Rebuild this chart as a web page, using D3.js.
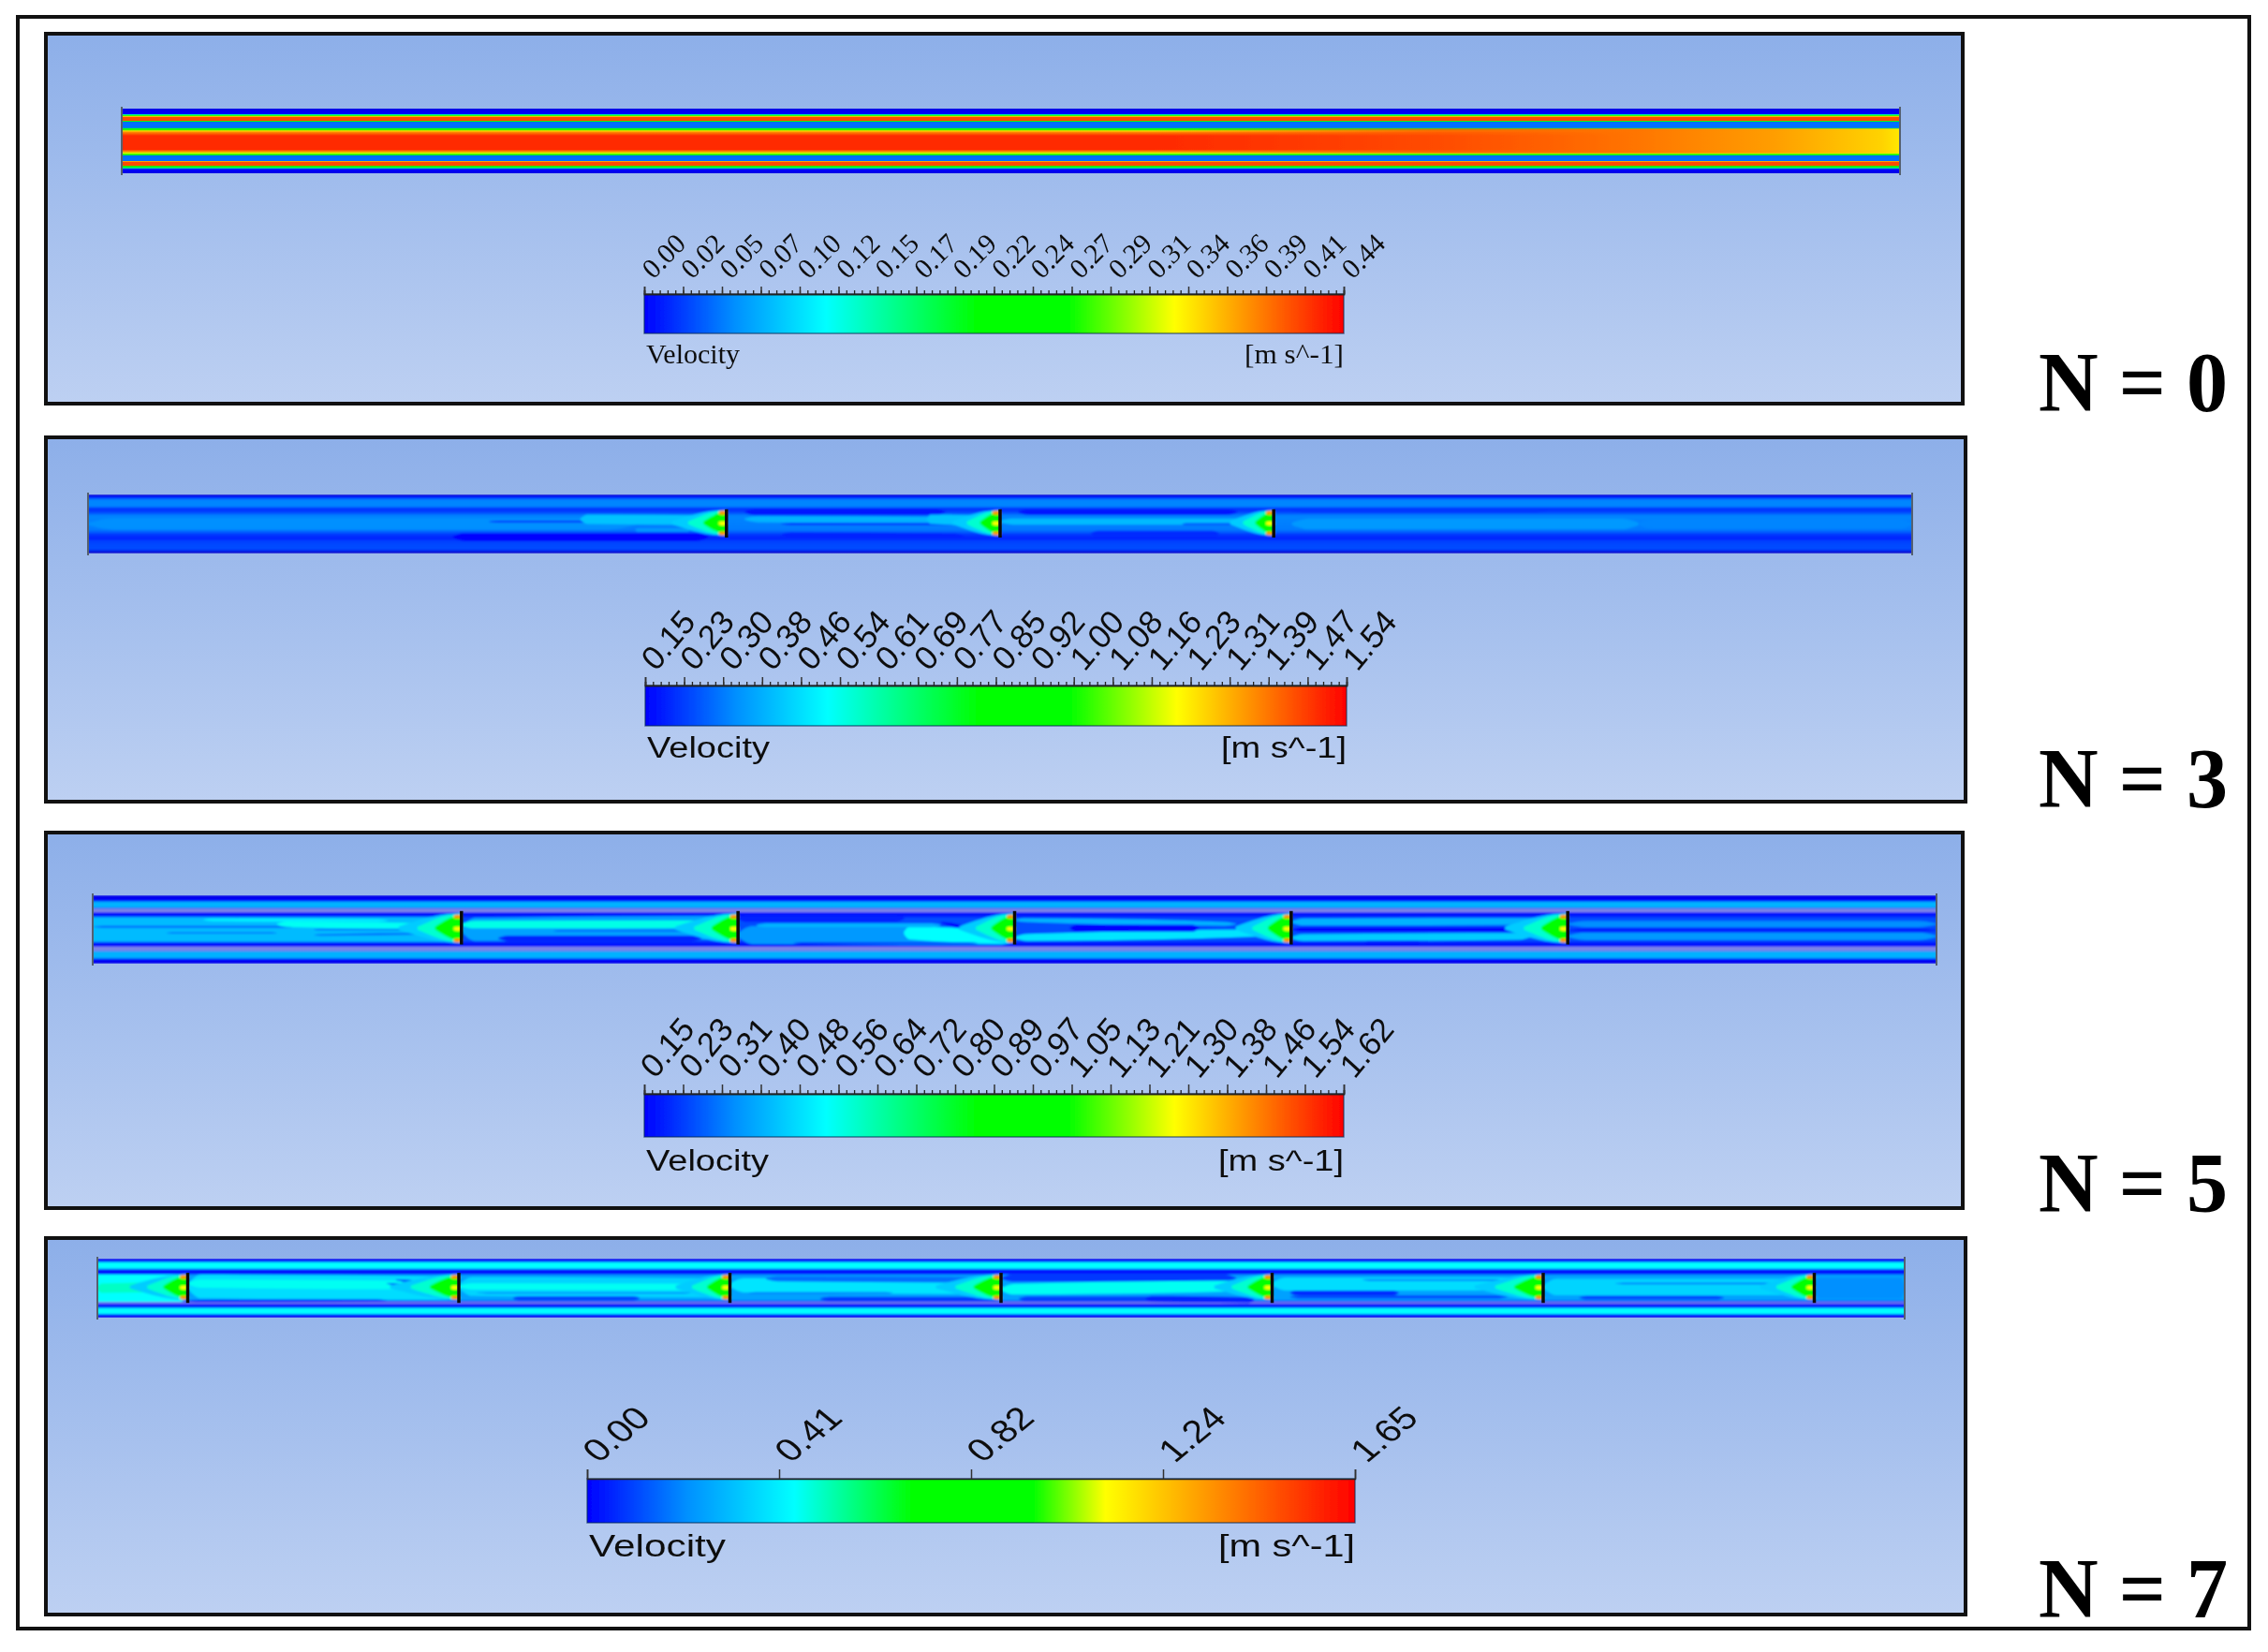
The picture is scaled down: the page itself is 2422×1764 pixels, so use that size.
<!DOCTYPE html>
<html>
<head>
<meta charset="utf-8">
<style>
  html, body { margin: 0; padding: 0; background: #fff; }
  svg { display: block; }
</style>
<script src="https://cdn.jsdelivr.net/npm/d3@7"></script>
</head>
<body>
<script>
// colour bar tick labels
var ticksN0 = ['0.00','0.02','0.05','0.07','0.10','0.12','0.15','0.17','0.19','0.22','0.24','0.27','0.29','0.31','0.34','0.36','0.39','0.41','0.44'];
var ticksN3 = ['0.15','0.23','0.30','0.38','0.46','0.54','0.61','0.69','0.77','0.85','0.92','1.00','1.08','1.16','1.23','1.31','1.39','1.47','1.54'];
var ticksN5 = ['0.15','0.23','0.31','0.40','0.48','0.56','0.64','0.72','0.80','0.89','0.97','1.05','1.13','1.21','1.30','1.38','1.46','1.54','1.62'];
var ticksN7 = ['0.00','0.41','0.82','1.24','1.65'];

// baffle stations along the tube (fraction of its length)
var bafflesN3 = [0.35, 0.5, 0.65];
var bafflesN5 = [0.2, 0.35, 0.5, 0.65, 0.8];
var bafflesN7 = [0.05, 0.2, 0.35, 0.5, 0.65, 0.8, 0.95];

// plume length upstream of each baffle
var plumesN3 = [0.03, 0.026, 0.024];
var plumesN5 = [0.034, 0.034, 0.03, 0.03, 0.034];
var plumesN7 = [0.032, 0.038, 0.03, 0.036, 0.032, 0.038, 0.03];

// velocity across the tube: [height fraction, normalised velocity]
var profileN0 = [[0,-0.03],[0.08,0],[0.09,0.3],[0.105,0.55],[0.12,0.8],[0.135,0.93],[0.185,0.93],[0.195,0.5],[0.205,0.1],[0.295,0.1],[0.305,0.45],[0.325,0.62],[0.345,0.8],[0.37,0.88],[0.42,0.96],[0.63,0.96],[0.665,0.86],[0.69,0.72],[0.715,0.5],[0.73,0.1],[0.805,0.1],[0.815,0.8],[0.825,0.93],[0.875,0.93],[0.895,0.6],[0.915,0.4],[0.93,0.1],[0.94,0],[1,-0.03]];
var profileN3 = [[0,-0.1],[0.03,0],[0.07,0.07],[0.09,0.12],[0.2,0.12],[0.24,0.04],[0.3,0.06],[0.36,0.12],[0.6,0.11],[0.68,0.05],[0.74,0.03],[0.8,0.06],[0.93,0.07],[0.97,-0.03],[1,-0.1]];
var profileN5 = [[0,-0.03],[0.03,-0.02],[0.08,0],[0.1,0.17],[0.17,0.17],[0.2,0.05],[0.26,0],[0.3,0.02],[0.34,0.07],[0.66,0.07],[0.7,0.02],[0.74,0],[0.8,0.05],[0.83,0.17],[0.91,0.17],[0.94,0],[1,-0.03]];
var profileN7 = [[0,-0.02],[0.05,0.02],[0.07,0.26],[0.16,0.26],[0.19,0.02],[0.25,0],[0.28,0.15],[0.7,0.15],[0.74,0.01],[0.82,0.02],[0.85,0.26],[0.93,0.26],[0.95,0],[1,-0.02]];

// N = 0 core towards the outlet: [length fraction, velocity, opacity]
var coreN0 = [[0.58,0.93,0],[0.74,0.92,0.8],[0.85,0.89,1],[0.93,0.85,1],[0.99,0.8,1],[1,0.78,1]];

// pale wall stripes: [top, bottom] height fractions
var wallsN5 = [[0.195,0.25],[0.75,0.815]];
var wallsN7 = [[0.735,0.765]];

// streaks in the flow: [x start, x end, y start, y end, half height, velocity]
var streaksN3 = [
  [0,0.3,0.5,0.5,0.1,0.13],[0.2,0.34,0.72,0.72,0.07,0.0],[0.22,0.33,0.46,0.46,0.015,0.03],
  [0.27,0.35,0.42,0.44,0.08,0.19],[0.3,0.33,0.6,0.6,0.03,0.14],
  [0.36,0.47,0.3,0.3,0.055,0.02],[0.36,0.5,0.42,0.44,0.05,0.17],[0.38,0.49,0.5,0.5,0.015,0.03],
  [0.38,0.48,0.68,0.7,0.04,0.03],[0.46,0.5,0.42,0.45,0.08,0.19],
  [0.51,0.63,0.3,0.3,0.05,0.02],[0.5,0.64,0.46,0.46,0.05,0.18],[0.55,0.62,0.66,0.66,0.045,0.04],[0.6,0.64,0.5,0.5,0.012,0.03],
  [0.66,0.85,0.5,0.5,0.09,0.14],[0.66,0.8,0.28,0.28,0.03,0.05],[0.85,1,0.5,0.5,0.08,0.12]
];
var streaksN5 = [
  [-0.02,0.2,0.5,0.5,0.18,0.18],[0.0,0.11,0.46,0.46,0.012,0.07],[0.04,0.1,0.55,0.55,0.01,0.1],[0.06,0.16,0.36,0.37,0.02,0.24],
  [0.1,0.2,0.42,0.46,0.04,0.27],[0.12,0.19,0.58,0.56,0.012,0.1],[0.12,0.18,0.5,0.5,0.01,0.09],
  [0.2,0.35,0.5,0.47,0.17,0.15],[0.2,0.35,0.43,0.42,0.055,0.28],[0.22,0.33,0.63,0.63,0.04,0.03],[0.25,0.33,0.52,0.52,0.012,0.09],
  [0.35,0.44,0.34,0.34,0.05,0.03],[0.35,0.5,0.58,0.6,0.13,0.14],[0.44,0.5,0.55,0.62,0.09,0.26],[0.36,0.46,0.44,0.44,0.03,0.17],[0.38,0.48,0.7,0.7,0.012,0.02],
  [0.46,0.475,0.4,0.48,0.012,0.0],[0.5,0.62,0.36,0.42,0.028,0.17],[0.5,0.64,0.62,0.55,0.05,0.23],[0.53,0.6,0.48,0.48,0.05,0.0],
  [0.65,0.79,0.39,0.38,0.05,0.17],[0.65,0.78,0.62,0.6,0.05,0.2],[0.65,0.78,0.5,0.5,0.035,0.0],[0.69,0.72,0.68,0.68,0.012,0.02],
  [0.8,1,0.42,0.42,0.045,0.13],[0.8,1,0.6,0.6,0.055,0.14],[0.8,1,0.51,0.51,0.03,0.03]
];
var streaksN7 = [
  [-0.02,0.05,0.5,0.5,0.23,0.26],[0.0,0.05,0.5,0.48,0.08,0.31],
  [0.05,0.2,0.47,0.5,0.2,0.22],[0.05,0.19,0.42,0.45,0.07,0.27],[0.05,0.16,0.72,0.71,0.02,0.04],[0.16,0.195,0.42,0.5,0.012,0.06],[0.165,0.19,0.36,0.44,0.01,0.05],
  [0.2,0.35,0.47,0.5,0.16,0.21],[0.2,0.35,0.47,0.48,0.055,0.27],[0.23,0.3,0.67,0.67,0.035,0.06],[0.21,0.33,0.58,0.58,0.01,0.1],
  [0.35,0.5,0.45,0.48,0.12,0.23],[0.37,0.5,0.34,0.36,0.045,0.1],[0.4,0.5,0.68,0.68,0.035,0.05],[0.36,0.44,0.58,0.58,0.012,0.1],
  [0.5,0.63,0.33,0.33,0.06,0.05],[0.5,0.64,0.52,0.46,0.09,0.27],[0.51,0.6,0.68,0.68,0.04,0.06],[0.58,0.64,0.68,0.7,0.05,0.03],
  [0.65,0.8,0.43,0.43,0.11,0.22],[0.66,0.72,0.58,0.58,0.04,0.04],[0.66,0.78,0.65,0.65,0.03,0.07],[0.7,0.78,0.36,0.36,0.012,0.09],
  [0.8,0.95,0.48,0.48,0.14,0.21],[0.82,0.9,0.66,0.66,0.03,0.06],[0.84,0.93,0.42,0.42,0.012,0.09],[0.95,1,0.5,0.5,0.18,0.13]
];

// jet heights just behind a baffle, and the plume layers (length share, half height, velocity)
var jetHeights = [0.31, 0.49, 0.66];
var plumeLayers = [[1,0.2,0.2],[0.7,0.19,0.3],[0.42,0.17,0.5]];

// colour ramp of the solver: velocity to colour
var rampStops = [-0.1,0,0.13,0.26,0.477,0.605,0.758,1];
var rampColors = ['#0000a8','#0000ff','#0090ff','#00ffff','#00ff00','#00ff00','#ffff00','#ff0000'];
// last bar sits a little differently
var barStopsN7 = [0,0.13,0.27,0.425,0.58,0.675,1];
var barColorsN7 = ['#0000ff','#0090ff','#00ffff','#00ff00','#00ff00','#ffff00','#ff0000'];

var width = 2422, height = 1764;
var ramp = d3.scaleLinear().domain(rampStops).range(rampColors).clamp(true);

var svg = d3.select('body').append('svg').attr('width', width).attr('height', height);
var defs = svg.append('defs');

var grad = defs.append('linearGradient').attr('id', 'panelBg').attr('x1', 0).attr('x2', 0).attr('y1', 0).attr('y2', 1);
grad.append('stop').attr('offset', 0).attr('stop-color', '#8dafe9');
grad.append('stop').attr('offset', 1).attr('stop-color', '#bdd0f2');

var barGrad = defs.append('linearGradient').attr('id', 'barRamp');
rampStops.slice(1).forEach(function(v, i) {
  barGrad.append('stop').attr('offset', v).attr('stop-color', rampColors[i + 1]);
});
var barGrad7 = defs.append('linearGradient').attr('id', 'barRampN7');
barStopsN7.forEach(function(v, i) {
  barGrad7.append('stop').attr('offset', v).attr('stop-color', barColorsN7[i]);
});

function addBlur(id, dev) {
  defs.append('filter').attr('id', id).attr('x', '-5%').attr('y', '-30%').attr('width', '110%').attr('height', '160%')
    .append('feGaussianBlur').attr('stdDeviation', dev);
}
addBlur('soft', 0.9);
addBlur('crisp', 0.45);
addBlur('fine', 0.6);

function profileGradient(id, profile) {
  var g = defs.append('linearGradient').attr('id', id).attr('x1', 0).attr('x2', 0).attr('y1', 0).attr('y2', 1);
  profile.forEach(function(d) {
    g.append('stop').attr('offset', d[0]).attr('stop-color', ramp(d[1]));
  });
}

function drawPanel(x0, x1, y0, y1) {
  svg.append('rect').attr('x', x0).attr('y', y0).attr('width', x1 - x0).attr('height', y1 - y0)
    .attr('fill', 'url(#panelBg)').attr('stroke', '#111').attr('stroke-width', 4);
}

function drawTube(cfg) {
  var x = d3.scaleLinear().domain([0, 1]).range([cfg.x0, cfg.x1]);
  var y = d3.scaleLinear().domain([0, 1]).range([cfg.y0, cfg.y1]);
  profileGradient(cfg.id, cfg.profile);

  var clipId = cfg.id + 'Clip';
  defs.append('clipPath').attr('id', clipId).append('rect')
    .attr('x', x(0)).attr('y', y(0)).attr('width', x(1) - x(0)).attr('height', y(1) - y(0));

  var outer = svg.append('g').attr('clip-path', 'url(#' + clipId + ')');
  var g = outer.append('g').attr('filter', cfg.core ? 'url(#crisp)' : 'url(#soft)');
  g.append('rect').attr('x', x(0) - 6).attr('y', y(0)).attr('width', x(1) - x(0) + 12).attr('height', y(1) - y(0))
    .attr('fill', 'url(#' + cfg.id + ')');

  (cfg.walls || []).forEach(function(w) {
    g.append('rect').attr('x', x(0) - 6).attr('y', y(w[0])).attr('width', x(1) - x(0) + 12).attr('height', y(w[1]) - y(w[0]))
      .attr('fill', '#7f86e6');
  });

  var lens = d3.area().curve(d3.curveMonotoneX)
    .x(function(d) { return x(d.x); })
    .y0(function(d) { return y(d.y - d.h); })
    .y1(function(d) { return y(d.y + d.h); });

  g.selectAll('path.streak').data(cfg.streaks || []).enter().append('path')
    .attr('class', 'streak')
    .attr('fill', function(d) { return ramp(d[5]); })
    .attr('d', function(d) {
      var len = d[1] - d[0];
      return lens([0, 0.05, 0.95, 1].map(function(t, i) {
        return { x: d[0] + t * len, y: d[2] + t * (d[3] - d[2]), h: (i === 0 || i === 3) ? d[4] * 0.2 : d[4] };
      }));
    });

  // plumes that gather just before each baffle
  (cfg.baffles || []).forEach(function(b, i) {
    var len = cfg.plumes[i];
    plumeLayers.forEach(function(layer) {
      var l = len * layer[0];
      g.append('path').attr('fill', ramp(layer[2])).attr('d', lens([
        { x: b - l, y: 0.48, h: layer[1] * 0.12 },
        { x: b - l * 0.7, y: 0.48, h: layer[1] * 0.55 },
        { x: b - l * 0.35, y: 0.48, h: layer[1] * 0.95 },
        { x: b, y: 0.48, h: layer[1] * 1.1 }
      ]));
    });
    jetHeights.forEach(function(j, k) {
      g.append('ellipse').attr('cx', x(b) - 4).attr('cy', y(j)).attr('rx', 4.5).attr('ry', 2.2)
        .attr('fill', ramp(k === 1 ? 0.76 : 0.86));
    });
  });

  if (cfg.core) {
    var coreGrad = defs.append('linearGradient').attr('id', cfg.id + 'Core');
    cfg.core.forEach(function(d) {
      coreGrad.append('stop').attr('offset', d[0]).attr('stop-color', ramp(d[1])).attr('stop-opacity', d[2]);
    });
    g.append('rect').attr('x', x(0)).attr('y', y(0.31)).attr('width', x(1) - x(0)).attr('height', y(0.69) - y(0.31))
      .attr('fill', 'url(#' + cfg.id + 'Core)');
  }

  svg.append('g').selectAll('line').data(cfg.baffles || []).enter().append('line')
    .attr('x1', function(d) { return x(d); }).attr('x2', function(d) { return x(d); })
    .attr('y1', y(cfg.baffleTop)).attr('y2', y(cfg.baffleBottom))
    .attr('stroke', '#0a0a0a').attr('stroke-width', 3.5);

  // tube end caps
  svg.append('g').selectAll('line').data([0, 1]).enter().append('line')
    .attr('x1', function(d) { return x(d); }).attr('x2', function(d) { return x(d); })
    .attr('y1', y(0) - 2).attr('y2', y(1) + 2)
    .attr('stroke', '#55606f').attr('stroke-width', 2);
}

function drawLegend(cfg) {
  var g = svg.append('g').attr('filter', 'url(#fine)');
  g.append('rect').attr('x', cfg.x0).attr('y', cfg.y0).attr('width', cfg.x1 - cfg.x0).attr('height', cfg.y1 - cfg.y0)
    .attr('fill', cfg.fill).attr('stroke', '#0a2a50').attr('stroke-opacity', 0.6).attr('stroke-width', 1.5);

  var scale = d3.scalePoint().domain(cfg.labels).range([cfg.x0, cfg.x1]);

  if (cfg.minor) {
    var idx = d3.scaleLinear().domain([0, (cfg.labels.length - 1) * cfg.minor]).range([cfg.x0, cfg.x1]);
    var minor = g.append('g').attr('transform', 'translate(0,' + cfg.y0 + ')')
      .call(d3.axisTop(idx).tickValues(d3.range((cfg.labels.length - 1) * cfg.minor + 1)).tickSize(4).tickFormat(''));
    minor.select('.domain').attr('stroke', '#222').attr('stroke-width', 1.5);
    minor.selectAll('line').attr('stroke', '#222').attr('stroke-width', 1.3);
  }

  var axis = g.append('g').attr('transform', 'translate(0,' + cfg.y0 + ')')
    .call(d3.axisTop(scale).tickSize(cfg.tick));
  axis.select('.domain').attr('stroke', '#222').attr('stroke-width', 1.5);
  axis.selectAll('line').attr('stroke', '#333').attr('stroke-width', 1.5);
  axis.selectAll('text')
    .attr('x', 0).attr('y', 0).attr('dy', 0)
    .attr('text-anchor', 'start')
    .attr('font-family', cfg.font).attr('font-size', cfg.size).attr('fill', '#111')
    .attr('transform', 'translate(' + cfg.labelDx + ',' + (-cfg.tick - cfg.labelGap) + ') scale(' + cfg.stretch + ',1) rotate(' + cfg.angle + ')');

  g.append('text').attr('x', cfg.x0 + 2).attr('y', cfg.titleY)
    .attr('font-family', cfg.font).attr('font-size', cfg.titleSize).attr('fill', '#111')
    .attr('textLength', cfg.titleLen).attr('lengthAdjust', 'spacingAndGlyphs')
    .text('Velocity');
  g.append('text').attr('x', cfg.x1 - cfg.unitLen).attr('y', cfg.titleY)
    .attr('font-family', cfg.font).attr('font-size', cfg.titleSize).attr('fill', '#111')
    .attr('textLength', cfg.unitLen).attr('lengthAdjust', 'spacingAndGlyphs')
    .text('[m s^-1]');
}

function drawCaseLabel(text, baseline) {
  svg.append('text').attr('x', 2177).attr('y', baseline)
    .attr('font-family', '"Liberation Serif"').attr('font-weight', 'bold').attr('font-size', 90).attr('fill', '#000')
    .attr('textLength', 202).attr('lengthAdjust', 'spacingAndGlyphs')
    .text(text);
}

// outer frame
svg.append('rect').attr('x', 19).attr('y', 18).attr('width', 2383).attr('height', 1721)
  .attr('fill', 'none').attr('stroke', '#111').attr('stroke-width', 4);

drawPanel(49, 2096, 36, 431);
drawPanel(49, 2099, 467, 856);
drawPanel(49, 2096, 889, 1290);
drawPanel(49, 2099, 1322, 1724);

drawTube({ id: 'tubeN0', x0: 130, x1: 2029, y0: 116, y1: 185, profile: profileN0, core: coreN0 });
drawTube({ id: 'tubeN3', x0: 94, x1: 2042, y0: 528, y1: 591, profile: profileN3, streaks: streaksN3,
  baffles: bafflesN3, plumes: plumesN3, baffleTop: 0.25, baffleBottom: 0.73 });
drawTube({ id: 'tubeN5', x0: 99, x1: 2068, y0: 956, y1: 1029, profile: profileN5, walls: wallsN5, streaks: streaksN5,
  baffles: bafflesN5, plumes: plumesN5, baffleTop: 0.23, baffleBottom: 0.72 });
drawTube({ id: 'tubeN7', x0: 104, x1: 2034, y0: 1344, y1: 1407, profile: profileN7, walls: wallsN7, streaks: streaksN7,
  baffles: bafflesN7, plumes: plumesN7, baffleTop: 0.24, baffleBottom: 0.75 });

var serif = '"Liberation Serif"', sans = '"Liberation Sans"';
drawLegend({ labels: ticksN0, fill: 'url(#barRamp)', x0: 688, x1: 1435, y0: 314, y1: 356, tick: 8, minor: 5, font: serif, size: 30, stretch: 0.98, angle: -45,
  labelDx: 9, labelGap: 7, titleY: 388, titleSize: 29, titleLen: 100, unitLen: 106 });
drawLegend({ labels: ticksN3, fill: 'url(#barRamp)', x0: 689, x1: 1438, y0: 732, y1: 775, tick: 9, minor: 5, font: sans, size: 36, stretch: 0.95, angle: -49,
  labelDx: 11, labelGap: 5, titleY: 809, titleSize: 31, titleLen: 131, unitLen: 134 });
drawLegend({ labels: ticksN5, fill: 'url(#barRamp)', x0: 688, x1: 1435, y0: 1168, y1: 1214, tick: 10, minor: 5, font: sans, size: 36, stretch: 0.95, angle: -49,
  labelDx: 11, labelGap: 5, titleY: 1250, titleSize: 31, titleLen: 131, unitLen: 134 });
drawLegend({ labels: ticksN7, fill: 'url(#barRampN7)', x0: 627, x1: 1447, y0: 1579, y1: 1626, tick: 10, minor: 0, font: sans, size: 34, stretch: 1.22, angle: -45,
  labelDx: 12, labelGap: 6, titleY: 1662, titleSize: 33, titleLen: 146, unitLen: 146 });

drawCaseLabel('N = 0', 439);
drawCaseLabel('N = 3', 862);
drawCaseLabel('N = 5', 1294);
drawCaseLabel('N = 7', 1727);
</script>
</body>
</html>
